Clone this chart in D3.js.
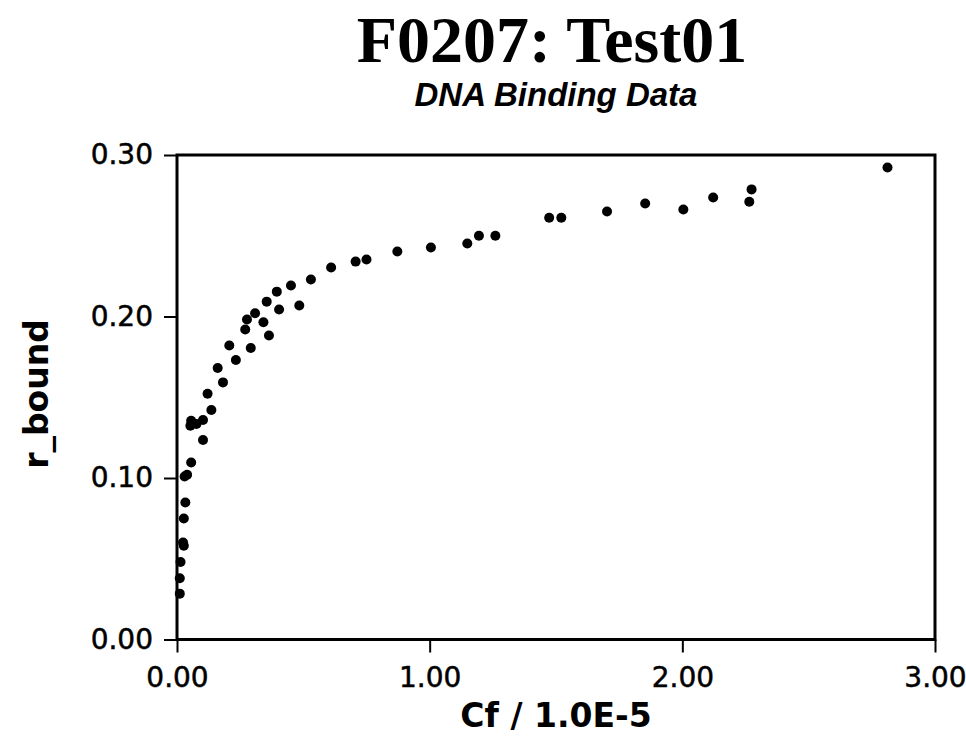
<!DOCTYPE html>
<html>
<head>
<meta charset="utf-8">
<script src="https://cdn.jsdelivr.net/npm/d3@7"></script>
<style>
  body { margin: 0; background: #fff; }
  svg { display: block; }
  .tick text { font-family: "DejaVu Sans", sans-serif; font-size: 28px; fill: #000; stroke: #000; stroke-width: 0.5; }
  .tick line { stroke: #000; stroke-width: 2; }
</style>
</head>
<body>
<div id="chart"></div>
<script>
// Cf / 1.0E-5 and r_bound
const cfValues = [
    0.011, 0.011, 0.014, 0.024, 0.027, 0.027, 0.033, 0.030, 0.040, 0.056,
    0.103, 0.056, 0.053, 0.077, 0.103, 0.136, 0.121, 0.182, 0.161, 0.233,
    0.207, 0.292, 0.364, 0.270, 0.342, 0.277, 0.309, 0.404, 0.484, 0.355,
    0.395, 0.451, 0.530, 0.610, 0.707, 0.750, 0.872, 1.005, 1.149, 1.195,
    1.260, 1.473, 1.521, 1.702, 1.853, 2.004, 2.122, 2.274, 2.265, 2.812
];
const rBound = [
    0.0284, 0.0379, 0.0480, 0.0600, 0.0580, 0.0749, 0.0848, 0.1009, 0.1020, 0.1096,
    0.1235, 0.1355, 0.1324, 0.1334, 0.1359, 0.1421, 0.1522, 0.1592, 0.1681, 0.1731,
    0.1820, 0.1805, 0.1882, 0.1919, 0.1964, 0.1981, 0.2020, 0.2043, 0.2068, 0.2092,
    0.2154, 0.2192, 0.2229, 0.2303, 0.2340, 0.2353, 0.2402, 0.2427, 0.2452, 0.2500,
    0.2500, 0.2611, 0.2611, 0.2650, 0.2700, 0.2663, 0.2737, 0.2787, 0.2710, 0.2923
];
const xTicks = [0, 1, 2, 3];
const yTicks = [0, 0.1, 0.2, 0.3];

const width = 966;
const height = 738;
const margin = { top: 155, right: 31, bottom: 98.5, left: 177 };

const svg = d3.select('#chart')
    .append('svg')
    .attr('width', width)
    .attr('height', height);

const x = d3.scaleLinear()
    .domain([0, 3])
    .range([margin.left, width - margin.right]);

const y = d3.scaleLinear()
    .domain([0, 0.3])
    .range([height - margin.bottom, margin.top]);

// Title
svg.append('text')
    .attr('x', 552)
    .attr('y', 62)
    .attr('text-anchor', 'middle')
    .style('font-family', '"Liberation Serif", "Times New Roman", serif')
    .style('font-weight', 'bold')
    .style('font-size', '66px')
    .text('F0207: Test01');

svg.append('text')
    .attr('x', 556)
    .attr('y', 106)
    .attr('text-anchor', 'middle')
    .style('font-family', '"Liberation Sans", Arial, sans-serif')
    .style('font-weight', 'bold')
    .style('font-style', 'italic')
    .style('font-size', '33px')
    .text('DNA Binding Data');

// Axes
const xAxis = svg.append('g')
    .attr('transform', `translate(0,${y(0)})`)
    .call(d3.axisBottom(x).tickValues(xTicks).tickSize(13).tickPadding(15).tickFormat(d3.format('.2f')));
xAxis.select('.domain').remove();

const yAxis = svg.append('g')
    .attr('transform', `translate(${x(0)},0)`)
    .call(d3.axisLeft(y).tickValues(yTicks).tickSize(13).tickPadding(11).tickFormat(d3.format('.2f')));
yAxis.select('.domain').remove();

// Frame
svg.append('rect')
    .attr('x', x(0))
    .attr('y', y(0.3))
    .attr('width', x(3) - x(0))
    .attr('height', y(0) - y(0.3))
    .attr('fill', 'none')
    .attr('stroke', '#000')
    .attr('stroke-width', 3);

// Axis titles
svg.append('text')
    .attr('x', 556)
    .attr('y', 727)
    .attr('text-anchor', 'middle')
    .style('font-family', '"DejaVu Sans", sans-serif')
    .style('font-weight', 'bold')
    .style('font-size', '33px')
    .text('Cf / 1.0E-5');

svg.append('text')
    .attr('transform', 'translate(48,394) rotate(-90)')
    .attr('text-anchor', 'middle')
    .style('font-family', '"DejaVu Sans", sans-serif')
    .style('font-weight', 'bold')
    .style('font-size', '33px')
    .text('r_bound');

// Points
svg.append('g')
    .selectAll('circle')
    .data(cfValues.map((c, i) => ({ cf: c, r: rBound[i] })))
    .enter()
    .append('circle')
    .attr('cx', d => x(d.cf))
    .attr('cy', d => y(d.r))
    .attr('r', 5)
    .attr('fill', '#000');
</script>
</body>
</html>
